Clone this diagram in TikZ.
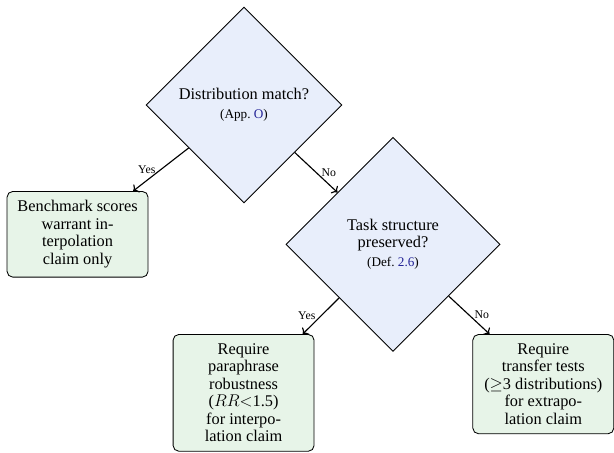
\documentclass[tikz,border=0pt]{standalone}
\usepackage{amsmath, amssymb}
\usepackage{fontspec}
\setmainfont{Liberation Serif}
\usepackage{tikz}
\usepackage{xcolor}
\usetikzlibrary{shapes.geometric, arrows.meta, positioning}
\definecolor{decisionbg}{RGB}{232, 238, 251}
\definecolor{outcomebg}{RGB}{231, 244, 232}
\definecolor{refblue}{RGB}{35, 35, 150}
\newcommand{\nodefont}{\fontsize{11.5}{12.3}\selectfont}
\newcommand{\reffont}{\fontsize{9.3}{11}\selectfont}

\tikzset{
    decision/.style={draw, semithick, diamond, aspect=1, fill=decisionbg, inner sep=0pt, align=center, font=\nodefont},
    outcome/.style={draw, semithick, rounded corners=4pt, fill=outcomebg, minimum width=3.49cm, inner xsep=5.5pt, inner ysep=6.5pt, align=center, font=\nodefont},
    branch/.style={->, thick},
    branchlabel/.style={font=\fontsize{8.3}{10}\selectfont, inner sep=3.5pt}
}

\begin{document}
\begin{tikzpicture}
    \useasboundingbox (0,0) rectangle (15.20,-11.21);
    \node[decision, minimum size=4.85cm] (match) at (6.04,-2.60) {Distribution match?\\[1pt] {\reffont (App.~\textcolor{refblue}{O})}};
    \node[outcome] (interp) at (1.92,-5.80) {Benchmark scores\\ warrant in-\\ terpolation\\ claim only};
    \node[decision, minimum size=5.30cm] (struct) at (9.73,-6.05) {Task structure\\ preserved?\\[1pt] {\reffont (Def.~\textcolor{refblue}{2.6})}};
    \node[outcome, anchor=north] (para) at (6.03,-8.27) {Require\\ paraphrase\\ robustness\\ ($RR$$<$1.5)\\ for interpo-\\ lation claim};
    \node[outcome, anchor=north] (transfer) at (13.45,-8.27) {Require\\ transfer tests\\ ($\geq$3 distributions)\\ for extrapo-\\ lation claim};

    \draw[branch] (match) -- node[branchlabel, left] {Yes} (interp);
    \draw[branch] (match) -- node[branchlabel, right] {No} (struct);
    \draw[branch] (struct) -- node[branchlabel, left] {Yes} (para);
    \draw[branch] (struct) -- node[branchlabel, right] {No} (transfer);
\end{tikzpicture}
\end{document}
